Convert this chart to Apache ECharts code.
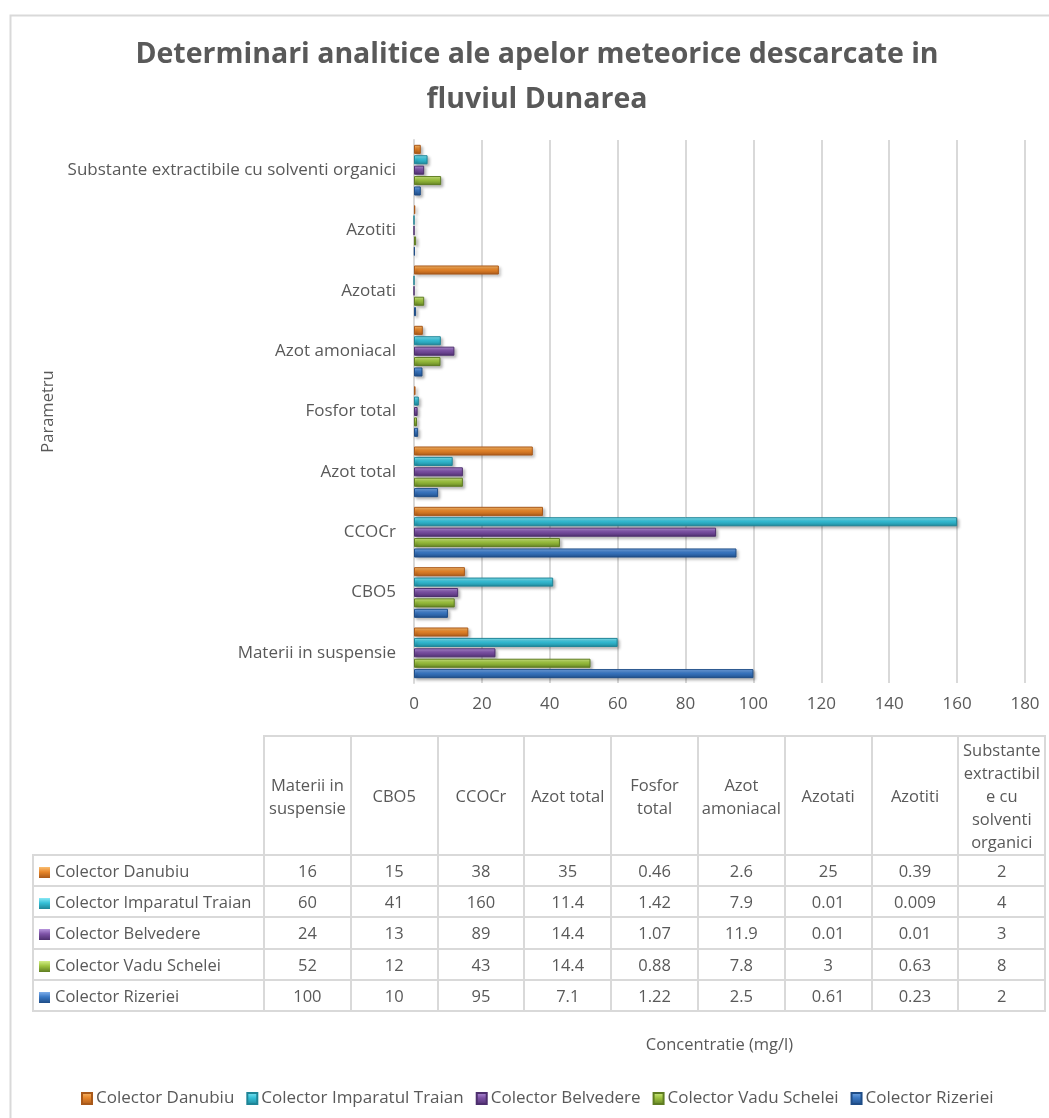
<!DOCTYPE html>
<html>
<head>
<meta charset="utf-8">
<script src="https://cdn.jsdelivr.net/npm/echarts@6/dist/echarts.min.js"></script>
<style>
  html, body { margin: 0; padding: 0; background: #fff; }
  #wrap { position: relative; width: 1049px; height: 1118px; overflow: hidden; }
  #chart { position: absolute; left: 0; top: 0; width: 1049px; height: 1118px; }
  #tbl { position: absolute; left: 32px; top: 735px; border-collapse: collapse; table-layout: fixed;
         font-family: 'Open Sans', sans-serif; font-size: 16.5px; color: #595959; }
  #tbl td { border: 2px solid #d9d9d9; text-align: center; padding: 0; line-height: 23px; overflow: hidden; white-space: nowrap; }
  #tbl td.lbl { text-align: left; padding-left: 5px; }
  .ico { display: inline-block; width: 11px; height: 11px; margin-right: 5px; vertical-align: -1px; }
</style>
</head>
<body>
<div id="wrap">
  <div id="chart"></div>
  <table id="tbl"></table>
</div>
<script>
// ---------------- DATA ----------------
const categories = ['Materii in suspensie', 'CBO5', 'CCOCr', 'Azot total', 'Fosfor total',
  'Azot amoniacal', 'Azotati', 'Azotiti', 'Substante extractibile cu solventi organici'];
const headerLabels = ['Materii in\nsuspensie', 'CBO5', 'CCOCr', 'Azot total', 'Fosfor\ntotal',
  'Azot\namoniacal', 'Azotati', 'Azotiti', 'Substante\nextractibil\ne cu\nsolventi\norganici'];
const seriesNames = ['Colector Danubiu', 'Colector Imparatul Traian', 'Colector Belvedere',
  'Colector Vadu Schelei', 'Colector Rizeriei'];
const danubiu   = [16, 15, 38, 35, 0.46, 2.6, 25, 0.39, 2];
const imparatul = [60, 41, 160, 11.4, 1.42, 7.9, 0.01, 0.009, 4];
const belvedere = [24, 13, 89, 14.4, 1.07, 11.9, 0.01, 0.01, 3];
const vadu      = [52, 12, 43, 14.4, 0.88, 7.8, 3, 0.63, 8];
const rizeriei  = [100, 10, 95, 7.1, 1.22, 2.5, 0.61, 0.23, 2];
const xTicks = [0, 20, 40, 60, 80, 100, 120, 140, 160, 180];

const titleText = 'Determinari analitice ale apelor meteorice descarcate in\nfluviul Dunarea';
const xAxisTitle = 'Concentratie (mg/l)';
const yAxisTitle = 'Parametru';

// ---------------- STYLE ----------------
const palette = {
  'Colector Danubiu':          ['#F9BE72', '#E8862A', '#A9591A'],
  'Colector Imparatul Traian': ['#8AE8F5', '#35C0D8', '#1F8597'],
  'Colector Belvedere':        ['#B895DD', '#7D52A6', '#4E2F6E'],
  'Colector Vadu Schelei':     ['#D3EE88', '#9DC33F', '#5F7D22'],
  'Colector Rizeriei':         ['#7EAEEA', '#3A78C4', '#1F4D87']
};
function grad(name) {
  const c = palette[name];
  return new echarts.graphic.LinearGradient(0, 0, 0, 1, [
    { offset: 0, color: c[0] }, { offset: 0.45, color: c[1] }, { offset: 1, color: c[2] }
  ]);
}
function cssGrad(name) {
  const c = palette[name];
  return 'linear-gradient(to bottom,' + c[0] + ',' + c[1] + ' 45%,' + c[2] + ')';
}
const valuesByName = {
  'Colector Danubiu': danubiu,
  'Colector Imparatul Traian': imparatul,
  'Colector Belvedere': belvedere,
  'Colector Vadu Schelei': vadu,
  'Colector Rizeriei': rizeriei
};

const FONT = "'Open Sans', sans-serif";
const TXT = '#595959';

const chart = echarts.init(document.getElementById('chart'), null, { renderer: 'canvas' });
chart.setOption({
  animation: false,
  backgroundColor: '#fff',
  title: {
    text: titleText, left: 532, top: 27, textAlign: 'center',
    textStyle: { fontFamily: FONT, fontSize: 28.5, fontWeight: 'bold', color: TXT, lineHeight: 45 }
  },
  graphic: [{
    type: 'rect', left: 8, top: 13, shape: { width: 1100, height: 1200 },
    style: { fill: 'none', stroke: '#d9d9d9', lineWidth: 2 }, silent: true
  }],
  legend: {
    data: seriesNames, top: 1085, left: 76, icon: 'rect', itemWidth: 10, itemHeight: 11, itemGap: 12,
    textStyle: { fontFamily: FONT, fontSize: 17, color: TXT, padding: [0, 0, 0, -1] }
  },
  grid: { left: 414, right: 24, top: 140, bottom: 435, containLabel: false },
  xAxis: {
    type: 'value', min: xTicks[0], max: xTicks[xTicks.length - 1], interval: 20,
    name: xAxisTitle, nameLocation: 'middle', nameGap: 354,
    nameTextStyle: { fontFamily: FONT, fontSize: 16.5, color: TXT },
    axisLine: { show: false }, axisTick: { show: false },
    axisLabel: { fontFamily: FONT, fontSize: 17, color: TXT, margin: 13 },
    splitLine: { lineStyle: { color: '#d9d9d9', width: 2 } }
  },
  yAxis: {
    type: 'category', data: categories,
    name: yAxisTitle, nameLocation: 'middle', nameGap: 356, nameRotate: 90,
    nameTextStyle: { fontFamily: FONT, fontSize: 16.5, color: TXT },
    axisLine: { show: true, lineStyle: { color: '#d9d9d9', width: 2 } },
    axisTick: { show: false },
    axisLabel: { fontFamily: FONT, fontSize: 17, color: TXT, margin: 18 }
  },
  series: seriesNames.map(name => ({
    name: name, type: 'bar', data: valuesByName[name],
    barCategoryGap: '16%', barGap: '15%',
    itemStyle: {
      color: grad(name), borderColor: palette[name][2], borderWidth: 1,
      shadowColor: 'rgba(0,0,0,0.28)', shadowBlur: 3, shadowOffsetX: 2, shadowOffsetY: 2
    }
  }))
});

// ---------------- DATA TABLE ----------------
const tbl = document.getElementById('tbl');
const colW = 86.8, firstW = 231, headH = 119, rowH = 31.2;
let html = '<colgroup><col style="width:' + firstW + 'px">';
for (let i = 0; i < categories.length; i++) html += '<col style="width:' + colW + 'px">';
html += '</colgroup>';
html += '<tr style="height:' + headH + 'px"><td style="border-top:none;border-left:none"></td>';
headerLabels.forEach(h => { html += '<td style="white-space:pre;line-height:23px">' + h + '</td>'; });
html += '</tr>';
seriesNames.forEach(name => {
  html += '<tr style="height:' + rowH + 'px"><td class="lbl"><span class="ico" style="background:' +
    cssGrad(name) + '"></span>' + name + '</td>';
  valuesByName[name].forEach(v => { html += '<td>' + v + '</td>'; });
  html += '</tr>';
});
tbl.innerHTML = html;
</script>
</body>
</html>
